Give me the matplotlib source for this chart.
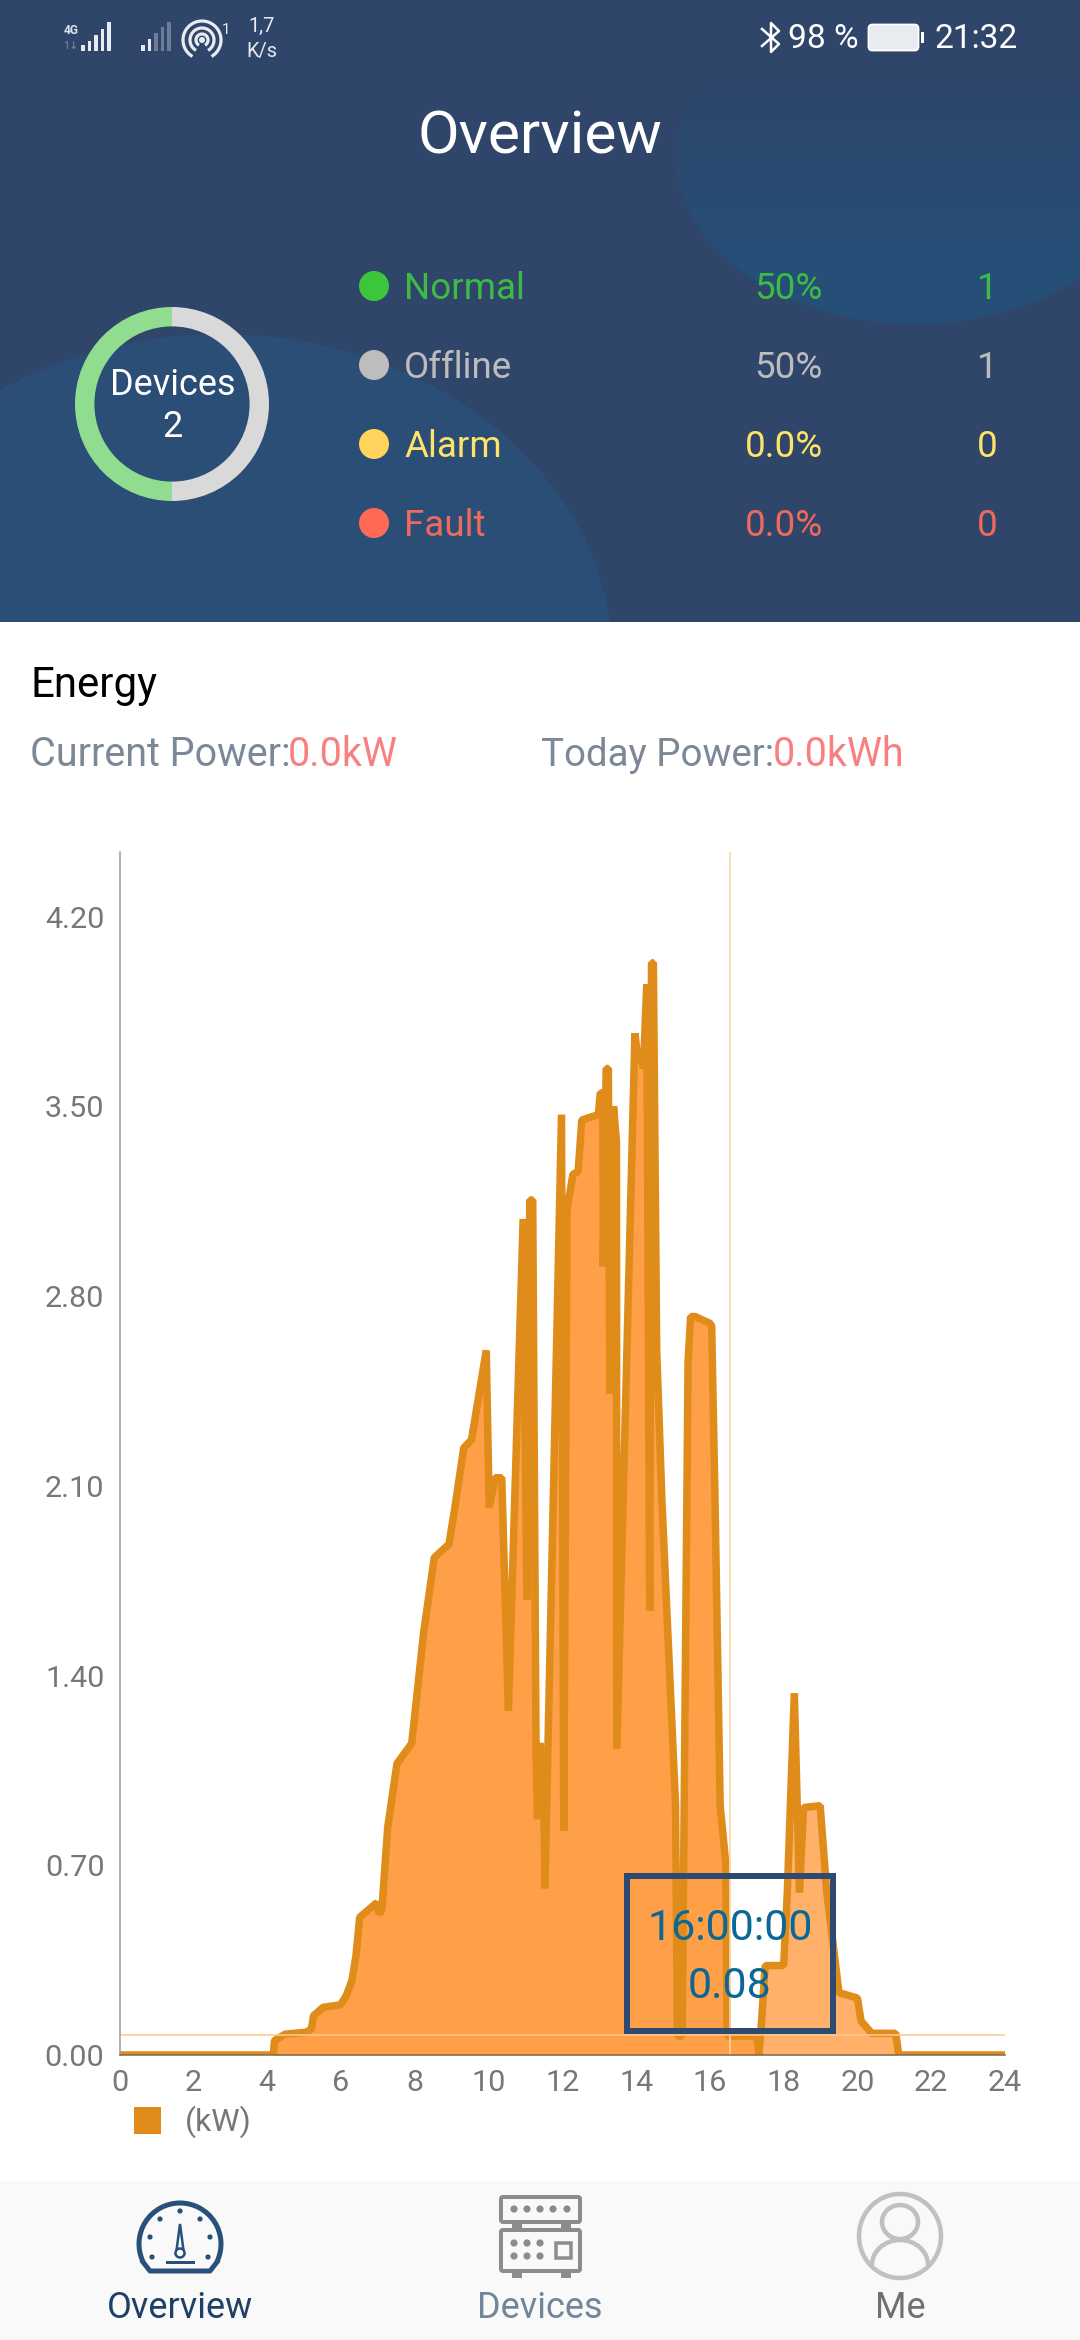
"""Energy overview screen: status header, device donut and daily power chart."""

import matplotlib

matplotlib.use("Agg", force=True)
import matplotlib.pyplot as plt
import numpy as np
from matplotlib.patches import Arc, Circle, Ellipse, FancyBboxPatch, Polygon, Rectangle

plt.rcParams["font.family"] = ["Roboto", "DejaVu Sans"]

W, H = 1080, 2340
DPI = 100

# power curve
hours = [
    0, 4.17, 4.2, 4.49, 5.06, 5.2, 5.26, 5.52, 5.99, 6.15, 6.3, 6.41, 6.51, 6.98, 7.03,
    7.11, 7.27, 7.52, 7.92, 8.24, 8.53, 8.93, 9.09, 9.33, 9.54, 9.94, 10.02, 10.18,
    10.36, 10.54, 10.94, 11.04, 11.12, 11.2, 11.29, 11.33, 11.39, 11.49, 11.53, 11.98,
    12.04, 12.13, 12.29, 12.43, 12.53, 12.98, 13.03, 13.1, 13.11, 13.19, 13.25, 13.29,
    13.39, 13.47, 13.48, 13.97, 14.06, 14.15, 14.2, 14.29, 14.37, 14.42, 14.47, 14.56,
    14.7, 15.07, 15.12, 15.25, 15.41, 15.48, 15.6, 16.0, 16.05, 16.14, 16.28, 16.43,
    16.47, 17.27, 17.33, 17.4, 17.5, 18.0, 18.1, 18.29, 18.43, 18.54, 18.99, 19.17,
    19.5, 20.0, 20.1, 20.39, 21.04, 21.12, 24,
]
power_kw = [
    0, 0, 0.053, 0.077, 0.084, 0.096, 0.145, 0.176, 0.185, 0.22, 0.275, 0.367, 0.508,
    0.563, 0.52, 0.535, 0.84, 1.075, 1.15, 1.555, 1.835, 1.885, 2.02, 2.24, 2.27, 2.60,
    2.02, 2.13, 2.13, 1.27, 3.085, 1.68, 3.155, 3.155, 1.116, 0.87, 1.15, 1.09, 0.615,
    3.47, 0.827, 3.12, 3.25, 3.26, 3.45, 3.47, 3.55, 3.55, 2.91, 3.64, 3.64, 2.44, 3.5,
    3.37, 1.13, 3.77, 3.66, 3.7, 3.64, 3.95, 1.64, 4.03, 4.03, 2.6, 2.05, 0.926, 0.07,
    0.07, 2.56, 2.725, 2.725, 2.70, 2.69, 2.05, 0.92, 0.71, 0.07, 0.07, 0.0, 0.12, 0.33,
    0.33, 0.60, 1.335, 0.6, 0.913, 0.92, 0.6, 0.23, 0.21, 0.125, 0.08, 0.08, 0.0, 0.0,
]
light_from_hour = 17.3
cursor_hour = 16.55
cursor_kw = 0.075

x_ticks = list(range(0, 25, 2))
y_ticks = [0.0, 0.7, 1.4, 2.1, 2.8, 3.5, 4.2]

device_counts = [1, 1]
status_names = ["Normal", "Offline", "Alarm", "Fault"]
status_shares = ["50%", "50%", "0.0%", "0.0%"]
status_counts = ["1", "1", "0", "0"]
status_text_colors = ["#3dbb45", "#bcbcbc", "#fde367", "#ee6a5c"]
status_dot_colors = ["#3cc63c", "#bdbdbd", "#ffd35c", "#ff6a55"]

NAVY = "#2f4569"
LINE = "#e08c1a"
TICK = "#777777"


def pt(px):
    return px * 72 / DPI


def px_rect(left, top, right, bottom):
    return [left / W, 1 - bottom / H, (right - left) / W, (bottom - top) / H]


fig = plt.figure(figsize=(W / DPI, H / DPI), dpi=DPI, facecolor="white")

# chart
ax = fig.add_axes(px_rect(119.5, 852, 1005, 2055), facecolor="none")
t = np.array(hours)
p = np.array(power_kw)
ax.fill_between(t, p, where=t <= light_from_hour, color="#ff9f47", lw=0, interpolate=True)
ax.fill_between(t, p, where=t >= light_from_hour, color="#ffb16a", lw=0, interpolate=True)
ax.plot(t, p, color=LINE, lw=pt(7.5), solid_joinstyle="bevel", solid_capstyle="butt")
ax.axvline(cursor_hour, color="#f6d6a6", lw=pt(1.6))
ax.axhline(cursor_kw, color="#ffc98f", lw=pt(1.6))
ax.set_xlim(0, 24)
ax.set_ylim(0, 4.439)
ax.set_xticks(x_ticks)
ax.set_yticks(y_ticks)
ax.set_yticklabels([f"{v:.2f}" for v in y_ticks])
ax.tick_params(length=0, labelsize=pt(30.5), labelcolor=TICK)
ax.tick_params(axis="x", pad=pt(14))
ax.tick_params(axis="y", pad=pt(15))
for side in ("top", "right"):
    ax.spines[side].set_visible(False)
ax.spines["left"].set_color("#9a9a9a")
ax.spines["left"].set_linewidth(pt(1.5))
ax.spines["bottom"].set_color("#7a6a50")
ax.spines["bottom"].set_linewidth(pt(1.5))

# everything else lives on a pixel canvas over the chart
ui = fig.add_axes([0, 0, 1, 1], facecolor="none")
ui.set_xlim(0, W)
ui.set_ylim(H, 0)
ui.axis("off")


def label(x, y, s, size, color, ha="left", **kw):
    ui.text(x, y + 3, s, fontsize=pt(size), color=color, ha=ha, va="center", **kw)


# header background
ui.add_patch(Rectangle((0, 0), W, 622, fc=NAVY, ec="none", zorder=0))
header = Rectangle((0, 0), W, 622, transform=ui.transData)
blob = Ellipse((220, 660), 786, 652, fc="#2a4e75", ec="none", zorder=1)
ui.add_patch(blob)
blob.set_clip_path(header)
top_blob = Ellipse((915, 154), 480, 340, fc="none", ec="none", zorder=1)
ui.add_patch(top_blob)
fade = np.linspace(0, 1, 64).reshape(-1, 1)
rgba = np.ones((64, 1, 4))
rgba[:, :, :3] = matplotlib.colors.to_rgb("#264f78")
rgba[:, :, 3] = fade
im = ui.imshow(rgba, extent=(0, W, 270, 60), aspect="auto", zorder=1)
im.set_clip_path(top_blob)
low = Rectangle((0, 270), W, 70, fc="#264f78", ec="none", zorder=1)
ui.add_patch(low)
low.set_clip_path(top_blob)
ui.set_xlim(0, W)
ui.set_ylim(H, 0)

label(540, 134, "Overview", 60.5, "white", ha="center")

# status bar
for i, h in enumerate([6, 10, 16, 22, 29]):
    ui.add_patch(Rectangle((81 + i * 6.5, 51 - h), 3.6, h, fc="#e8ebf0", ec="none", zorder=2))
label(71, 27, "4G", 12, "#dfe3ea", ha="center", fontweight="bold")
label(71, 43, "1↓", 11, "#7d8ba3", ha="center")
for i, h in enumerate([6, 12, 18, 24, 29]):
    c = "#e8ebf0" if i < 2 else "#6d7d98"
    ui.add_patch(Rectangle((141 + i * 6.5, 51 - h), 3.6, h, fc=c, ec="none", zorder=2))
for d in (12, 24, 38):
    ui.add_patch(Arc((202, 40), d, d, theta1=120, theta2=60, ec="#e8ebf0", lw=pt(3.2), zorder=2))
ui.add_patch(Circle((202, 40), 3, fc="#e8ebf0", ec="none", zorder=2))
label(226, 27, "1", 15, "#e8ebf0", ha="center")
label(262, 23, "1,7", 20, "#e8ebf0", ha="center")
label(262, 49, "K/s", 20, "#e8ebf0", ha="center")
ui.plot([762, 779, 771, 771, 779, 762], [29, 44, 52, 23, 31, 46], color="white", lw=pt(2.5), zorder=2)
label(788, 36, "98 %", 33.5, "white")
ui.add_patch(FancyBboxPatch((870, 26), 47, 23, boxstyle="round,pad=1.5,rounding_size=4", fc="#e8ebf0", ec="white", lw=pt(1.8), zorder=2))
ui.add_patch(Rectangle((921, 32), 3, 11, fc="white", ec="none", zorder=2))
label(935, 36, "21:32", 33.5, "white")

# device donut
donut = fig.add_axes(px_rect(75, 307, 269, 501), facecolor="none")
donut.pie(device_counts, startangle=90, radius=1.0, colors=["#90dd90", "#d9d9d9"], wedgeprops={"width": 0.2, "linewidth": 0})
donut.set_xlim(-1, 1)
donut.set_ylim(-1, 1)
label(173, 382, "Devices", 36, "white", ha="center")
label(173, 424, "2", 36, "white", ha="center")

# status rows
for i, name in enumerate(status_names):
    y = 286 + i * 79
    ui.add_patch(Circle((374, y), 15, fc=status_dot_colors[i], ec="none", zorder=2))
    label(404, y, name, 36.8, status_text_colors[i])
    label(823, y, status_shares[i], 36.8, status_text_colors[i], ha="right")
    label(998, y, status_counts[i], 36.8, status_text_colors[i], ha="right")

# energy summary
label(30, 683, "Energy", 42, "black")
label(30, 752, "Current Power:", 39.5, "#7a8898")
label(288, 752, "0.0kW", 39.5, "#f98080")
label(541, 752, "Today Power:", 38.5, "#7a8898")
label(773, 752, "0.0kWh", 39.5, "#f98080")

# tooltip
ui.add_patch(Rectangle((627, 1876), 206, 155, fc="none", ec="#2e4a70", lw=pt(6), zorder=5))
label(730, 1926, "16:00:00", 43, "#0b6796", ha="center", zorder=6)
label(730, 1983, "0.08", 43, "#0b6796", ha="center", zorder=6)

# legend
ui.add_patch(Rectangle((134, 2107), 27, 27, fc=LINE, ec="none"))
label(185, 2119, "(kW)", 32, TICK)

# bottom navigation
ui.add_patch(Rectangle((0, 2181), W, 159, fc="#f9f9f9", ec="none", zorder=0))
label(180, 2305, "Overview", 36, "#1f3f66", ha="center")
label(540, 2305, "Devices", 36, "#72859b", ha="center")
label(900, 2305, "Me", 36, "#707070", ha="center")

# gauge icon
GAUGE = "#27507a"
ui.add_patch(Arc((180, 2244), 82, 82, theta1=155, theta2=25, ec=GAUGE, lw=pt(5)))
ui.plot([143, 150, 210, 217], [2262, 2271, 2271, 2262], color=GAUGE, lw=pt(5))
for dx, dy in [(0, -33), (-20, -25), (20, -25), (-30, -7), (30, -7), (-28, 13), (28, 13)]:
    ui.add_patch(Circle((180 + dx, 2244 + dy), 2.6, fc=GAUGE, ec="none"))
ui.add_patch(Polygon([(180, 2224), (176, 2254), (184, 2254)], fc="none", ec=GAUGE, lw=pt(2.5)))
ui.add_patch(Circle((180, 2253), 4.5, fc="white", ec=GAUGE, lw=pt(2.5)))
ui.plot([167, 193], [2262, 2262], color=GAUGE, lw=pt(3))

# devices icon
GREY = "#8c8c8c"
for top, bottom in [(2197, 2222), (2230, 2271)]:
    ui.add_patch(FancyBboxPatch((501, top), 79, bottom - top, boxstyle="round,pad=0,rounding_size=2", fc="none", ec=GREY, lw=pt(4)))
for x in (512, 561):
    ui.add_patch(Rectangle((x, 2222), 10, 8, fc=GREY, ec="none"))
    ui.add_patch(Rectangle((x, 2272), 10, 6, fc=GREY, ec="none"))
for x in (514, 527, 540, 553, 567):
    ui.add_patch(Circle((x, 2209), 3.6, fc=GREY, ec="none"))
for x in (514, 527, 540):
    for y in (2243, 2256):
        ui.add_patch(Circle((x, y), 3.6, fc=GREY, ec="none"))
ui.add_patch(Rectangle((556, 2243), 15, 15, fc="none", ec=GREY, lw=pt(3.5)))

# me icon
ME = "#c0c0c0"
ui.add_patch(Ellipse((900, 2236), 82, 84, fc="none", ec=ME, lw=pt(4.5)))
ui.add_patch(Ellipse((900, 2222), 36, 34, fc="none", ec=ME, lw=pt(4.5)))
ui.add_patch(Arc((900, 2265), 56, 50, theta1=180, theta2=0, ec=ME, lw=pt(4.5)))

fig.savefig("out.png", dpi=DPI)
plt.close(fig)
